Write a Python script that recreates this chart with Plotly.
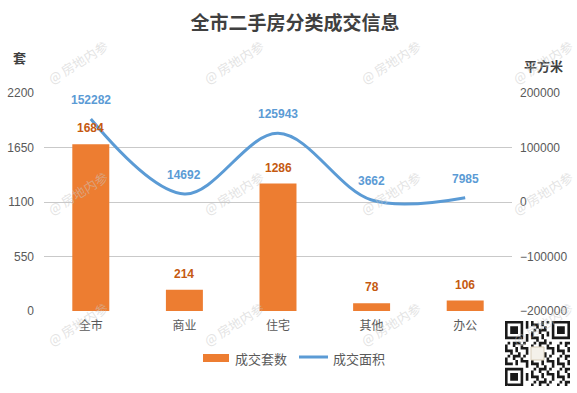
import plotly.graph_objects as go

categories = ["全市", "商业", "住宅", "其他", "办公"]
units_sold = [1684, 214, 1286, 78, 106]
area_sold = [152282, 14692, 125943, 3662, 7985]
left_ticks = [0, 550, 1100, 1650, 2200]
right_ticks = [-200000, -100000, 0, 100000, 200000]

title_text = "全市二手房分类成交信息"
left_title = "套"
right_title = "平方米"
bar_name = "成交套数"
line_name = "成交面积"
watermark = "@ 房地内参"

W, H = 577, 393
L, R, T, B = 44, 512, 93, 311
PW, PH = R - L, B - T

FONT = "Liberation Sans, Noto Sans CJK SC, sans-serif"
CJK = "Noto Sans CJK SC, Liberation Sans, sans-serif"
BAR_C = "#ED7D31"
LINE_C = "#5B9BD5"
TXT_C = "#595959"


def px(x):
    return (x - L) / PW


def py(y):
    return (B - y) / PH


def fmt(v):
    return ("\u2212" + str(-v)) if v < 0 else str(v)


fig = go.Figure()
fig.add_trace(go.Bar(x=categories, y=units_sold, name=bar_name,
                     marker=dict(color=BAR_C, line=dict(width=0)),
                     width=0.395, showlegend=False))
fig.add_trace(go.Scatter(x=categories, y=area_sold, name=line_name, yaxis="y2",
                         mode="lines", line=dict(color=LINE_C, width=3, shape="spline", smoothing=1.0),
                         showlegend=False))

ann = []
# data labels
for c, v in zip(categories, units_sold):
    ann.append(dict(x=c, y=v, xref="x", yref="y", text=f"<b>{v}</b>", showarrow=False,
                    xanchor="center", yanchor="middle",
                    yshift=16, font=dict(family=FONT, size=12, color="#C55A11")))
for c, v in zip(categories, area_sold):
    ann.append(dict(x=c, y=v, xref="x", yref="y2", text=f"<b>{v}</b>", showarrow=False,
                    xanchor="center", yanchor="middle",
                    yshift=19, font=dict(family=FONT, size=12, color=LINE_C)))
# axis titles
ann.append(dict(x=px(19), y=py(58), xref="paper", yref="paper", text=f"<b>{left_title}</b>",
                xanchor="center", yanchor="middle",
                showarrow=False, font=dict(family=CJK, size=13, color="#404040")))
ann.append(dict(x=px(543), y=py(65), xref="paper", yref="paper", text=f"<b>{right_title}</b>",
                xanchor="center", yanchor="middle",
                showarrow=False, font=dict(family=CJK, size=13, color="#404040")))
# legend text
ann.append(dict(x=px(233), y=py(358), xref="paper", yref="paper", text=bar_name, xanchor="left",
                yanchor="middle", showarrow=False, font=dict(family=CJK, size=13, color=TXT_C)))
ann.append(dict(x=px(331), y=py(358), xref="paper", yref="paper", text=line_name, xanchor="left",
                yanchor="middle", showarrow=False, font=dict(family=CJK, size=13, color=TXT_C)))
# watermarks
for wy in (62, 193, 324):
    for wx in (77, 233, 390, 542):
        ann.append(dict(x=px(wx), y=py(wy), xref="paper", yref="paper", text=watermark,
                        xanchor="center", yanchor="middle",
                        showarrow=False, textangle=-32,
                        font=dict(family=CJK, size=13, color="rgba(200,200,200,0.5)")))

shapes = []
# legend symbols
shapes.append(dict(type="rect", xref="paper", yref="paper", x0=px(203), x1=px(229),
                   y0=py(362), y1=py(354), fillcolor=BAR_C, line=dict(width=0)))
shapes.append(dict(type="line", xref="paper", yref="paper", x0=px(299), x1=px(328),
                   y0=py(357), y1=py(357), line=dict(color=LINE_C, width=3)))

# QR-like decoration (bottom right)
qx0, qy0, qs, n = 505, 321, 2.6, 25
pieces = []


def mod(i, j):
    x0 = qx0 + j * qs
    y0 = qy0 + i * qs
    return f"M{px(x0)},{py(y0)}H{px(x0 + qs)}V{py(y0 + qs)}H{px(x0)}Z"


def finder(i0, j0):
    for i in range(7):
        for j in range(7):
            if i in (0, 6) or j in (0, 6) or (2 <= i <= 4 and 2 <= j <= 4):
                pieces.append(mod(i0 + i, j0 + j))


finder(0, 0)
finder(0, n - 7)
finder(n - 7, 0)
for i in range(n):
    for j in range(n):
        if (i < 8 and j < 8) or (i < 8 and j >= n - 8) or (i >= n - 8 and j < 8):
            continue
        if 10 <= i <= 14 and 10 <= j <= 14:
            continue
        if (i * i + 3 * j + i * j + (j * j) // 2) % 5 < 2:
            pieces.append(mod(i, j))
shapes.append(dict(type="path", xref="paper", yref="paper", path="".join(pieces),
                   fillcolor="#1a1a1a", line=dict(width=0)))
shapes.append(dict(type="rect", xref="paper", yref="paper", x0=px(qx0 + 10 * qs), x1=px(qx0 + 15 * qs),
                   y0=py(qy0 + 15 * qs), y1=py(qy0 + 10 * qs), fillcolor="#f4f1ea",
                   line=dict(color="#d8cdb8", width=1)))

fig.update_layout(
    width=W, height=H, autosize=False,
    margin=dict(l=L, r=W - R, t=T, b=H - B, pad=0, autoexpand=False),
    paper_bgcolor="white", plot_bgcolor="white",
    font=dict(family=FONT, size=12, color=TXT_C),
    title=dict(text=f"<b>{title_text}</b>", x=295 / W, xanchor="center",
               y=1 - 23 / H, yanchor="middle", xref="container", yref="container",
               font=dict(family=CJK, size=19, color="#404040"), automargin=False),
    showlegend=False,
    xaxis=dict(type="category", showgrid=False, zeroline=False, showline=False, ticks="",
               automargin=False, ticklabelstandoff=6,
               tickfont=dict(family=CJK, size=12, color=TXT_C), fixedrange=True),
    yaxis=dict(range=[0, 2200], tickvals=left_ticks, ticktext=[fmt(v) for v in left_ticks],
               showgrid=True, gridcolor="#c9c9c9", gridwidth=1, zeroline=False, showline=False,
               automargin=False, ticks="", ticklabelstandoff=9,
               tickfont=dict(family=FONT, size=12, color=TXT_C)),
    yaxis2=dict(range=[-200000, 200000], tickvals=right_ticks, ticktext=[fmt(v) for v in right_ticks],
                overlaying="y", side="right", automargin=False,
                showgrid=False, zeroline=False, showline=False, ticks="", ticklabelstandoff=7,
                tickfont=dict(family=FONT, size=12, color=TXT_C)),
    annotations=ann, shapes=shapes,
)

fig.write_html("out.html", config={"displayModeBar": False, "staticPlot": True},
               post_script="document.body.style.margin='0';document.body.style.overflow='hidden';")
